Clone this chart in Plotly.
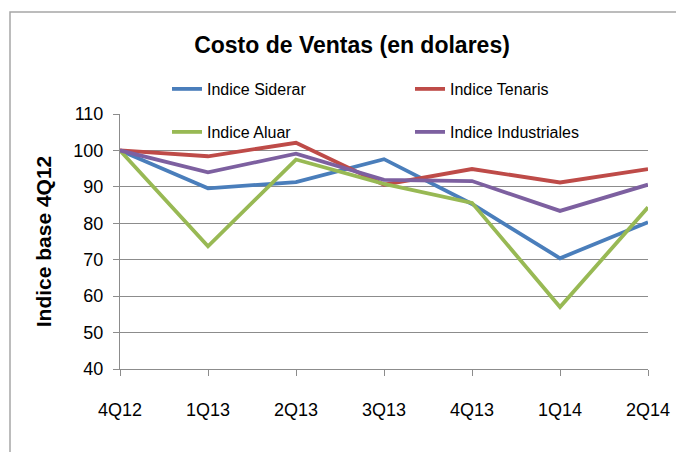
import plotly.graph_objects as go

quarters = ["4Q12", "1Q13", "2Q13", "3Q13", "4Q13", "1Q14", "2Q14"]
siderar = [100, 89.6, 91.3, 97.6, 85.3, 70.4, 80.3]
tenaris = [100, 98.4, 102.1, 90.6, 94.9, 91.2, 94.9]
aluar = [100, 73.7, 97.5, 90.8, 85.6, 57.0, 84.4]
industriales = [100, 94.0, 99.1, 91.9, 91.6, 83.4, 90.6]

FONT = "Liberation Sans, Arial, sans-serif"

fig = go.Figure()
series = [
    ("Indice Siderar", siderar, "#4A7EBB", "legend"),
    ("Indice Tenaris", tenaris, "#BE4B48", "legend"),
    ("Indice Aluar", aluar, "#98B954", "legend2"),
    ("Indice Industriales", industriales, "#7D60A0", "legend2"),
]
for name, vals, col, lg in series:
    fig.add_trace(go.Scatter(
        x=quarters, y=vals, name=name, mode="lines",
        line=dict(color=col, width=3.8), legend=lg,
    ))

L, R, T, B = 120, 28, 114, 83
PW = 676 - L - R
PH = 452 - T - B

def px(x):
    return (x - L) / PW

def py(y):
    return (452 - B - y) / PH

leg_common = dict(
    orientation="h", font=dict(family=FONT, size=16, color="#000000"),
    bgcolor="rgba(0,0,0,0)", entrywidth=198, entrywidthmode="pixels",
    xanchor="left", yanchor="middle", itemwidth=30, tracegroupgap=0,
)

fig.update_layout(
    width=676, height=452,
    margin=dict(l=L, r=R, t=T, b=B),
    paper_bgcolor="white", plot_bgcolor="white",
    title=dict(text="<b>Costo de Ventas (en dolares)</b>", x=px(352), xref="paper",
               xanchor="center", y=1 - 45 / 452, yanchor="middle",
               font=dict(family=FONT, size=23, color="#000000")),
    legend=dict(x=px(167), y=py(89), **leg_common),
    legend2=dict(x=px(167), y=py(132), **leg_common),
    xaxis=dict(
        type="category", range=[0, 6], showgrid=False,
        showline=True, linecolor="#8c8c8c", linewidth=1,
        ticks="outside", ticklen=6, tickcolor="#8c8c8c",
        tickfont=dict(family=FONT, size=18, color="#000000"),
        ticklabelstandoff=18, automargin=False,
    ),
    yaxis=dict(
        range=[40, 110], dtick=10, tick0=40,
        showgrid=True, gridcolor="#8c8c8c", gridwidth=1,
        showline=True, linecolor="#8c8c8c", linewidth=1,
        ticks="outside", ticklen=6, tickcolor="#8c8c8c",
        tickfont=dict(family=FONT, size=18, color="#000000"),
        ticklabelstandoff=6, zeroline=False, automargin=False,
        title=dict(text="<b>Indice base 4Q12</b>",
                   font=dict(family=FONT, size=21, color="#000000"),
                   standoff=16),
    ),
    showlegend=True,
)

# outer chart border (only top and left visible)
fig.add_shape(type="rect", xref="paper", yref="paper",
              x0=px(10), x1=px(690), y0=py(480), y1=py(12),
              line=dict(color="#a6a6a6", width=1.5), layer="below")

fig.write_html("out.html", config={"displayModeBar": False},
               post_script="document.body.style.margin='0';")
